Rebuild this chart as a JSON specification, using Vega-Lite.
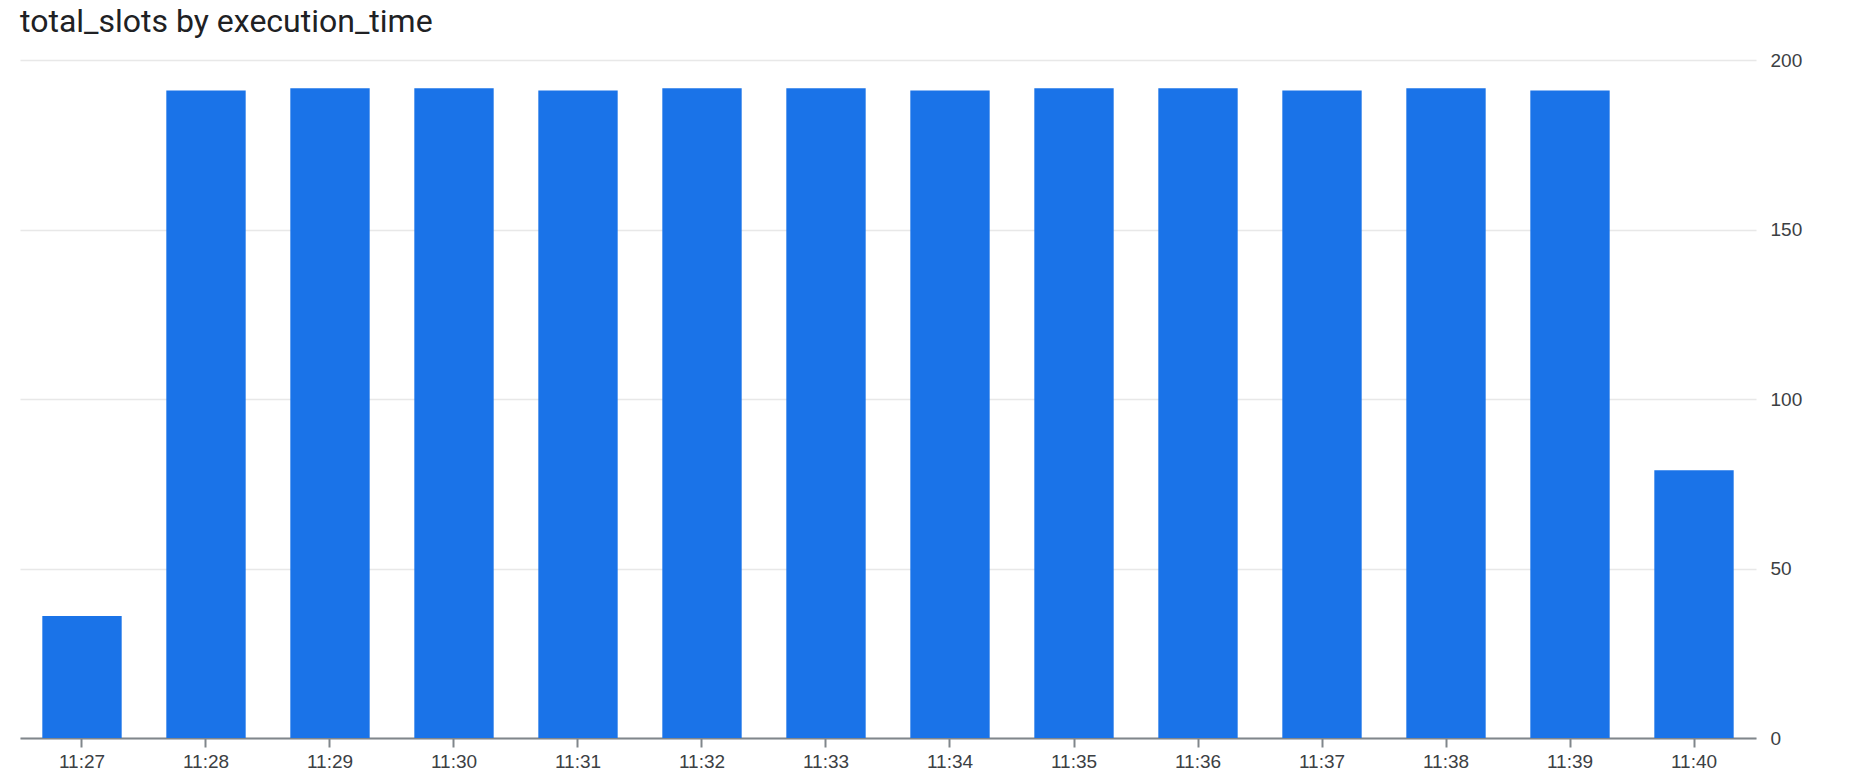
{
  "$schema": "https://vega.github.io/schema/vega-lite/v6.json",
  "autosize": {"type": "none"},
  "padding": {"left": 20, "top": 60, "right": 98, "bottom": 40},
  "width": 1736,
  "height": 678,
  "background": "white",
  "title": {
    "text": "total_slots by execution_time",
    "anchor": "start",
    "frame": "group",
    "font": "Roboto",
    "fontSize": 32,
    "fontWeight": "normal",
    "color": "#202124",
    "offset": 12
  },
  "data": {
    "values": [
      {"execution_time": "11:27", "total_slots": 36},
      {"execution_time": "11:28", "total_slots": 191},
      {"execution_time": "11:29", "total_slots": 191.7},
      {"execution_time": "11:30", "total_slots": 191.7},
      {"execution_time": "11:31", "total_slots": 191},
      {"execution_time": "11:32", "total_slots": 191.7},
      {"execution_time": "11:33", "total_slots": 191.7},
      {"execution_time": "11:34", "total_slots": 191},
      {"execution_time": "11:35", "total_slots": 191.7},
      {"execution_time": "11:36", "total_slots": 191.7},
      {"execution_time": "11:37", "total_slots": 191},
      {"execution_time": "11:38", "total_slots": 191.7},
      {"execution_time": "11:39", "total_slots": 191},
      {"execution_time": "11:40", "total_slots": 79}
    ]
  },
  "mark": {"type": "bar", "color": "#1a73e8"},
  "encoding": {
    "x": {
      "field": "execution_time",
      "type": "ordinal",
      "scale": {"paddingInner": 0.36, "paddingOuter": 0.18},
      "axis": {
        "title": null,
        "labelAngle": 0,
        "labelFont": "Liberation Sans",
        "labelFontSize": 19,
        "labelColor": "#3c4043",
        "labelPadding": 5,
        "domainColor": "#80868b",
        "domainWidth": 2,
        "tickColor": "#80868b",
        "tickWidth": 2,
        "tickSize": 9
      }
    },
    "y": {
      "field": "total_slots",
      "type": "quantitative",
      "scale": {"domain": [0, 200]},
      "axis": {
        "title": null,
        "orient": "right",
        "values": [0, 50, 100, 150, 200],
        "domain": false,
        "ticks": false,
        "labelFont": "Liberation Sans",
        "labelFontSize": 19,
        "labelColor": "#3c4043",
        "labelPadding": 14,
        "gridColor": "#e8e8e8",
        "gridWidth": 1.5
      }
    }
  },
  "config": {"view": {"stroke": null}}
}
